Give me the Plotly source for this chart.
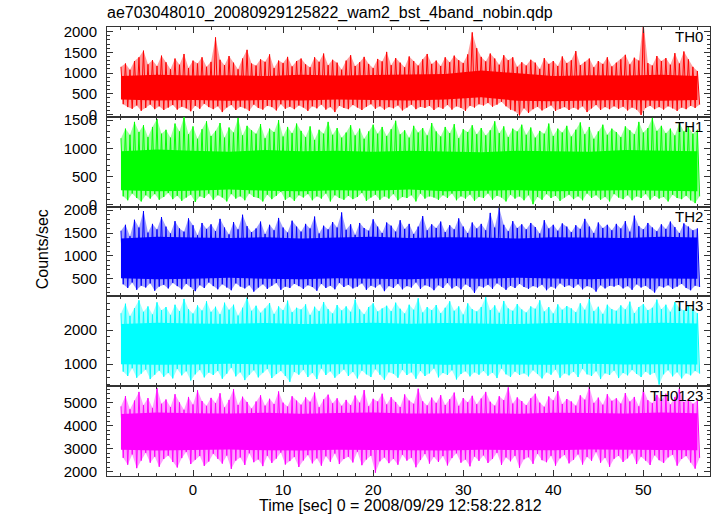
import plotly.graph_objects as go
from plotly.subplots import make_subplots

# ---------------- data ----------------
# spike/dip envelope: time grid (sec), 0.5 s step, from -8 to 56
t_start = -8.0
t_step = 0.5
# dense-core envelope: time grid (sec), 4 s step, from -8 to 56
core_t = [-8, -4, 0, 4, 8, 12, 16, 20, 24, 28, 32, 36, 40, 44, 48, 52, 56]

title_text = "ae703048010_20080929125822_wam2_bst_4band_nobin.qdp"
x_title = "Time [sec] 0 = 2008/09/29 12:58:22.812"
y_title = "Counts/sec"
band_names = ["TH0", "TH1", "TH2", "TH3", "TH0123"]
band_colors = ["#ff0000", "#00ff00", "#0000ff", "#00ffff", "#ff00ff"]
band_rgb = ["255,0,0", "0,255,0", "0,0,255", "0,255,255", "255,0,255"]

x_ticks = [0, 10, 20, 30, 40, 50]

# per-band local maxima (spike tips) and local minima (dips), read per 0.5 s
th0_hi = [1150, 1230, 1080, 1290, 1380, 1540, 1210, 1310, 1170, 1420,
          1260, 1090, 1350, 1200, 1460, 1120, 1300, 1230, 1380, 1150,
          1270, 1860, 1320, 1190, 1410, 1250, 1090, 1350, 1560, 1230,
          1180, 1330, 1270, 1450, 1120, 1300, 1240, 1390, 1160, 1290,
          1350, 1210, 1140, 1380, 1270, 1470, 1190, 1320, 1250, 1080,
          1300, 1430, 1170, 1260, 1390, 1220, 1120, 1340, 1280, 1510,
          1190, 1360, 1250, 1140, 1400, 1290, 1180, 1330, 1460, 1220,
          1300, 1170, 1380, 1260, 1420, 1310, 1240, 1450, 1980, 1600,
          1390, 1280, 1470, 1350, 1200, 1430, 1310, 1380, 1150, 1260,
          1180, 1320, 1250, 1100, 1360, 1220, 1290, 1170, 1400, 1240,
          1310, 1530, 1190, 1270, 1350, 1140, 1290, 1220, 1380, 1160,
          1250, 1330, 1440, 1210, 1370, 1300, 2250, 1240, 1180, 1410,
          1290, 1360, 1200, 1480, 1230, 1520, 1330, 1150, 1050]
th0_lo = [250, 180, 140, 220, 90, 160, 240, 130, 200, 110,
          170, 230, 120, 190, 150, 80, 210, 140, 260, 180,
          130, 200, 60, 170, 230, 110, 190, 150, 90, 240,
          160, 120, 210, 180, 100, 250, 140, 190, 130, 220,
          170, 90, 200, 150, 240, 120, 180, 60, 210, 160,
          130, 230, 170, 110, 190, 250, 140, 200, 120, 180,
          150, 220, 100, 170, 240, 130, 190, 160, 210, 110,
          180, 140, 230, 120, 200, 160, 90, 210, 170, 250,
          220, 280, 190, 240, 310, 200, 120, 80, -20, 150,
          40, 130, 190, 100, 160, 220, 90, 140, 180, 110,
          170, 120, 200, 60, 150, 230, 110, 180, 130, 200,
          140, 190, 100, 170, 120, -10, 160, 210, 130, 180,
          120, 200, 150, 90, 170, 130, 210, 160, 240]
th0_core_hi = [930, 960, 940, 950, 930, 960, 940, 950, 960, 980, 1060, 1000, 930, 950, 940, 960, 930]
th0_core_lo = [360, 340, 350, 330, 350, 340, 360, 350, 340, 360, 420, 330, 320, 340, 350, 330, 350]

th1_hi = [1180, 1350, 1240, 1470, 1290, 1410, 1200, 1380, 1520, 1260,
          1330, 1190, 1440, 1300, 1560, 1250, 1390, 1170, 1340, 1480,
          1220, 1310, 1450, 1190, 1370, 1280, 1540, 1230, 1400, 1320,
          1260, 1430, 1180, 1350, 1290, 1500, 1210, 1380, 1270, 1440,
          1310, 1200, 1390, 1150, 1330, 1260, 1470, 1240, 1360, 1190,
          1280, 1410, 1230, 1350, 1170, 1300, 1420, 1260, 1380, 1220,
          1340, 1490, 1250, 1320, 1190, 1400, 1280, 1360, 1230, 1450,
          1300, 1210, 1380, 1270, 1430, 1180, 1340, 1290, 1410, 1250,
          1360, 1230, 1320, 1480, 1270, 1390, 1200, 1350, 1300, 1420,
          1240, 1370, 1190, 1310, 1260, 1440, 1220, 1350, 1280, 1400,
          1210, 1330, 1460, 1250, 1380, 1170, 1300, 1420, 1240, 1350,
          1290, 1200, 1390, 1320, 1250, 1470, 1280, 1360, 1540, 1310,
          1400, 1270, 1350, 1230, 1450, 1300, 1380, 1260, 1330]
th1_lo = [150, 80, 200, 120, 60, 170, 110, 190, 90, 140,
          210, 100, 160, 70, 130, 180, 50, 150, 120, 200,
          90, 170, 130, 60, 190, 110, 150, 80, 200, 140,
          120, 60, 180, 100, 160, 230, 90, 140, 70, 170,
          130, 190, 80, 150, 110, 200, 60, 170, 120, 90,
          160, 100, 140, 210, 70, 130, 180, 90, 150, 110,
          190, 80, 140, 120, 170, 60, 200, 110, 150, 130,
          90, 170, 120, 200, 80, 150, 110, 180, 70, 140,
          120, 200, 90, 160, 130, 60, 180, 110, 150, 80,
          170, 10, 140, 90, 190, 120, 160, 70, 130, 180,
          100, 150, 80, 200, 120, 170, 90, 140, 60, 190,
          130, 100, 170, 80, 150, 120, 190, 90, 160, 110,
          140, 60, 180, 120, 100, 160, 80, 30, 150]
th1_core_hi = [950, 980, 960, 940, 970, 950, 960, 940, 960, 950, 930, 960, 950, 940, 970, 960, 950]
th1_core_lo = [260, 240, 250, 270, 250, 240, 260, 250, 270, 240, 250, 260, 240, 250, 260, 250, 240]

th2_hi = [1550, 1680, 1430, 1790, 1620, 1980, 1510, 1700, 1580, 1850,
          1640, 1490, 1760, 1600, 1530, 1820, 1670, 1450, 1720, 1590,
          1690, 1540, 1810, 1620, 1470, 1740, 1580, 1900, 1650, 1520,
          1600, 1750, 1480, 1680, 1560, 1830, 1620, 1510, 1770, 1640,
          1530, 1700, 1600, 1860, 1490, 1660, 1580, 1740, 1620, 1950,
          1570, 1690, 1460, 1720, 1610, 1550, 1800, 1640, 1500, 1730,
          1660, 1530, 1780, 1590, 1700, 1480, 1640, 1870, 1560, 1690,
          1610, 1750, 1520, 1670, 1580, 1820, 1640, 1500, 1730, 1600,
          1700, 1560, 1940, 1620, 2050, 1680, 1540, 1760, 1610, 1690,
          1580, 1720, 1630, 1490, 1780, 1600, 1680, 1550, 1710, 1640,
          1520, 1670, 1590, 1810, 1640, 1500, 1730, 1610, 1680, 1560,
          1700, 1600, 1760, 1530, 1880, 1650, 1580, 1720, 1620, 1540,
          1690, 1590, 1750, 1630, 1500, 1710, 1640, 1560, 1600]
th2_lo = [380, 300, 420, 260, 350, 310, 400, 240, 330, 370,
          290, 410, 340, 270, 390, 320, 230, 360, 300, 420,
          340, 270, 380, 310, 250, 400, 330, 290, 360, 220,
          310, 380, 280, 350, 410, 260, 330, 300, 390, 340,
          280, 360, 320, 240, 390, 300, 350, 270, 410, 320,
          370, 290, 330, 400, 260, 350, 310, 380, 230, 340,
          300, 390, 270, 340, 310, 420, 280, 360, 330, 250,
          360, 300, 410, 290, 350, 270, 380, 320, 190, 340,
          310, 370, 280, 400, 330, 260, 350, 300, 390, 320,
          280, 340, 310, 370, 250, 330, 290, 400, 320, 360,
          300, 380, 270, 340, 310, 220, 360, 290, 350, 330,
          370, 290, 340, 260, 380, 310, 350, 280, 200, 340,
          310, 360, 280, 330, 390, 300, 250, 350, 320]
th2_core_hi = [1380, 1420, 1400, 1390, 1410, 1380, 1400, 1420, 1390, 1410, 1400, 1380, 1410, 1400, 1390, 1420, 1400]
th2_core_lo = [510, 490, 500, 520, 500, 490, 510, 500, 490, 510, 500, 520, 500, 490, 510, 500, 500]

th3_hi = [2500, 2780, 2420, 2650, 2880, 2540, 2700, 2460, 2820, 2590,
          2680, 2450, 2750, 2560, 2920, 2620, 2490, 2730, 2580, 2850,
          2540, 2690, 2470, 2810, 2600, 2750, 2430, 2660, 2960, 2570,
          2720, 2510, 2640, 2800, 2480, 2700, 2590, 2870, 2530, 2660,
          2610, 2760, 2450, 2690, 2560, 2830, 2620, 2490, 2740, 2580,
          2700, 2540, 2900, 2610, 2470, 2680, 2790, 2550, 2640, 2720,
          2560, 2810, 2630, 2490, 2750, 2600, 2940, 2520, 2680, 2590,
          2740, 2500, 2660, 2850, 2570, 2700, 2460, 2790, 2620, 2550,
          2680, 2980, 2590, 2730, 2510, 2860, 2640, 2570, 2770, 2610,
          2520, 2700, 2630, 2880, 2550, 2680, 2490, 2760, 2600, 2710,
          2640, 2530, 2790, 2600, 2920, 2560, 2690, 2480, 2750, 2620,
          2570, 2730, 2610, 2840, 2500, 2680, 2770, 2590, 2660, 2900,
          2620, 2750, 2540, 2830, 2660, 2580, 2720, 2610, 2500]
th3_lo = [780, 650, 880, 600, 720, 840, 560, 690, 810, 630,
          740, 580, 860, 670, 790, 520, 700, 830, 610, 750,
          680, 800, 570, 720, 890, 640, 760, 530, 690, 820,
          610, 750, 860, 590, 710, 800, 650, 480, 770, 690,
          830, 620, 740, 560, 870, 680, 790, 600, 720, 840,
          650, 770, 580, 810, 700, 620, 850, 690, 540, 760,
          720, 600, 830, 680, 760, 570, 800, 650, 730, 870,
          610, 740, 680, 820, 550, 710, 790, 640, 760, 690,
          800, 660, 750, 590, 870, 700, 620, 780, 680, 730,
          640, 820, 710, 580, 760, 690, 840, 600, 730, 670,
          780, 620, 860, 700, 650, 790, 560, 730, 680, 810,
          590, 740, 670, 830, 710, 620, 780, 690, 750, 400,
          700, 820, 640, 760, 580, 730, 670, 800, 720]
th3_core_hi = [2180, 2220, 2200, 2190, 2210, 2180, 2200, 2220, 2190, 2210, 2200, 2180, 2210, 2200, 2190, 2220, 2200]
th3_core_lo = [1000, 980, 990, 1010, 990, 980, 1000, 990, 1010, 980, 1000, 990, 980, 1010, 990, 1000, 990]

th0123_hi = [4850, 5300, 4720, 5100, 5480, 4900, 5210, 4780, 5650, 4960,
             5150, 4820, 5380, 5020, 4700, 5260, 4930, 5550, 5080, 4870,
             5220, 4990, 5420, 4800, 5130, 5600, 4910, 5270, 5040, 4750,
             5060, 5330, 4880, 5180, 4950, 5500, 5010, 4840, 5290, 5100,
             4920, 5240, 5050, 5450, 4810, 5150, 5360, 4980, 5200, 4870,
             5130, 4900, 5320, 5010, 5560, 4850, 5180, 5060, 5400, 4930,
             5250, 5040, 4820, 5370, 5100, 4960, 5620, 5070, 4890, 5230,
             5000, 5340, 4910, 5160, 5450, 4870, 5210, 5030, 5310, 4940,
             5190, 5480, 5050, 4880, 5290, 5120, 5680, 4970, 5240, 5080,
             4900, 5200, 5400, 5010, 4830, 5280, 5110, 5520, 4950, 5170,
             5060, 4880, 5330, 5140, 5700, 5000, 5230, 4920, 5380, 5090,
             5200, 4970, 5430, 5060, 5260, 4850, 5590, 5120, 4990, 5350,
             5110, 5400, 4930, 5250, 5650, 5040, 5180, 4960, 5100]
th0123_lo = [2600, 2300, 2750, 2150, 2480, 2820, 2390, 2650, 2210, 2550,
             2700, 2420, 2180, 2590, 2860, 2330, 2520, 2680, 2250, 2440,
             2780, 2560, 2350, 2700, 2120, 2480, 2620, 2290, 2800, 2410,
             2530, 2240, 2690, 2380, 2570, 2830, 2310, 2460, 2640, 2200,
             2490, 2720, 2360, 2580, 2260, 2670, 2430, 2790, 2330, 2550,
             2650, 2400, 2870, 2280, 2530, 2690, 1950, 2450, 2620, 2370,
             2560, 2300, 2740, 2480, 2610, 2190, 2510, 2770, 2350, 2640,
             2420, 2680, 2270, 2590, 2800, 2390, 2530, 2230, 2660, 2470,
             2710, 2380, 2550, 2820, 2290, 2620, 2450, 2690, 2170, 2540,
             2630, 2340, 2780, 2500, 2410, 2690, 2260, 2580, 2730, 2360,
             2520, 2750, 2310, 2640, 2470, 2850, 2390, 2600, 2210, 2560,
             2690, 2420, 2580, 2800, 2330, 2650, 2480, 2290, 2710, 2500,
             2380, 2620, 2740, 2260, 2550, 2680, 2400, 2130, 2600]
th0123_core_hi = [4520, 4580, 4550, 4540, 4570, 4530, 4560, 4580, 4540, 4560, 4550, 4530, 4570, 4560, 4540, 4580, 4550]
th0123_core_lo = [2950, 2920, 2940, 2960, 2930, 2920, 2950, 2940, 2960, 2920, 2950, 2940, 2930, 2960, 2940, 2950, 2930]

hi_series = [th0_hi, th1_hi, th2_hi, th3_hi, th0123_hi]
lo_series = [th0_lo, th1_lo, th2_lo, th3_lo, th0123_lo]
core_hi_series = [th0_core_hi, th1_core_hi, th2_core_hi, th3_core_hi, th0123_core_hi]
core_lo_series = [th0_core_lo, th1_core_lo, th2_core_lo, th3_core_lo, th0123_core_lo]

y_ranges = [[-54, 2110], [-32, 1560], [115, 2078], [350, 2995], [1808, 5729]]
y_dticks = [500, 500, 500, 1000, 1000]
y_minor = [100, 100, 100, 200, 200]

# ---------------- figure ----------------
W, H = 717, 516
ML, MR, MT, MB = 107, 7, 27, 40
FONT = "Liberation Sans, Arial, Helvetica, sans-serif"
AX = "#333333"

fig = make_subplots(rows=5, cols=1, shared_xaxes=True, vertical_spacing=0)

for k in range(5):
    hi = hi_series[k]
    lo = lo_series[k]
    col = band_colors[k]
    t_hi = [t_start + t_step * i for i in range(len(hi))]
    t_lo = [t_start + t_step * i + t_step / 2 for i in range(len(lo))]
    # light fringe band between dips and spikes
    fig.add_trace(go.Scatter(x=t_lo, y=lo, mode="lines", line=dict(width=0, color=col),
                             showlegend=False, hoverinfo="skip"), row=k + 1, col=1)
    fig.add_trace(go.Scatter(x=t_hi, y=hi, mode="lines", fill="tonexty",
                             fillcolor=f"rgba({band_rgb[k]},0.38)",
                             line=dict(width=0, color=col),
                             showlegend=False, hoverinfo="skip"), row=k + 1, col=1)
    # spikes / dips as a zig-zag trace
    xs, ys = [], []
    for i in range(len(hi)):
        xs += [t_hi[i], t_lo[i]]
        ys += [hi[i], lo[i]]
    fig.add_trace(go.Scatter(x=xs, y=ys, mode="lines", line=dict(color=col, width=1),
                             showlegend=False, hoverinfo="skip"), row=k + 1, col=1)
    # dense core
    fig.add_trace(go.Scatter(x=core_t, y=core_lo_series[k], mode="lines",
                             line=dict(width=0, color=col),
                             showlegend=False, hoverinfo="skip"), row=k + 1, col=1)
    fig.add_trace(go.Scatter(x=core_t, y=core_hi_series[k], mode="lines", fill="tonexty",
                             fillcolor=col, line=dict(width=0, color=col),
                             showlegend=False, hoverinfo="skip"), row=k + 1, col=1)

    fig.update_yaxes(range=y_ranges[k], dtick=y_dticks[k], tick0=0,
                     minor=dict(dtick=y_minor[k], tick0=0, ticks="inside",
                                ticklen=3, tickcolor=AX, tickwidth=1),
                     row=k + 1, col=1)
    fig.add_annotation(text=band_names[k], xref="x domain" if k == 0 else f"x{k+1} domain",
                       yref="y domain" if k == 0 else f"y{k+1} domain",
                       x=0.992, y=1, xanchor="right", yanchor="top", yshift=1,
                       showarrow=False, font=dict(family=FONT, size=15, color="black"))

fig.update_xaxes(range=[-9.55, 57.4], tickvals=x_ticks, ticks="inside", ticklen=6,
                 tickcolor=AX, tickwidth=1, automargin=False,
                 minor=dict(dtick=2, tick0=0, ticks="inside", ticklen=3,
                            tickcolor=AX, tickwidth=1),
                 showline=True, linecolor=AX, linewidth=1, mirror="allticks",
                 showgrid=False, zeroline=False,
                 tickfont=dict(family=FONT, size=15, color="black"))
fig.update_yaxes(ticks="inside", ticklen=6, tickcolor=AX, tickwidth=1,
                 showline=True, linecolor=AX, linewidth=1, mirror="allticks",
                 showgrid=False, zeroline=False, ticklabelstandoff=6, automargin=False,
                 tickfont=dict(family=FONT, size=15, color="black"))

fig.add_annotation(text=y_title, xref="paper", yref="paper",
                   x=(42 - ML) / (W - ML - MR), y=0.505, textangle=-90,
                   xanchor="center", yanchor="middle",
                   showarrow=False, font=dict(family=FONT, size=16, color="black"))
fig.add_annotation(text=x_title, xref="paper", yref="paper",
                   x=(400.5 - ML) / (W - ML - MR), y=(475.7 - 505) / 448.7,
                   xanchor="center", yanchor="middle",
                   showarrow=False, font=dict(family=FONT, size=16, color="black"))

fig.update_layout(
    width=W, height=H,
    margin=dict(l=ML, r=MR, t=MT, b=MB, autoexpand=False),
    paper_bgcolor="white", plot_bgcolor="white",
    title=dict(text=title_text, x=ML / W, xanchor="left",
               y=1 - 12 / H, yanchor="middle",
               font=dict(family=FONT, size=16, color="black")),
    font=dict(family=FONT, color="black"),
)

fig.write_html("out.html", config={"displayModeBar": False},
               post_script="document.body.style.margin='0';document.body.style.padding='0';")
